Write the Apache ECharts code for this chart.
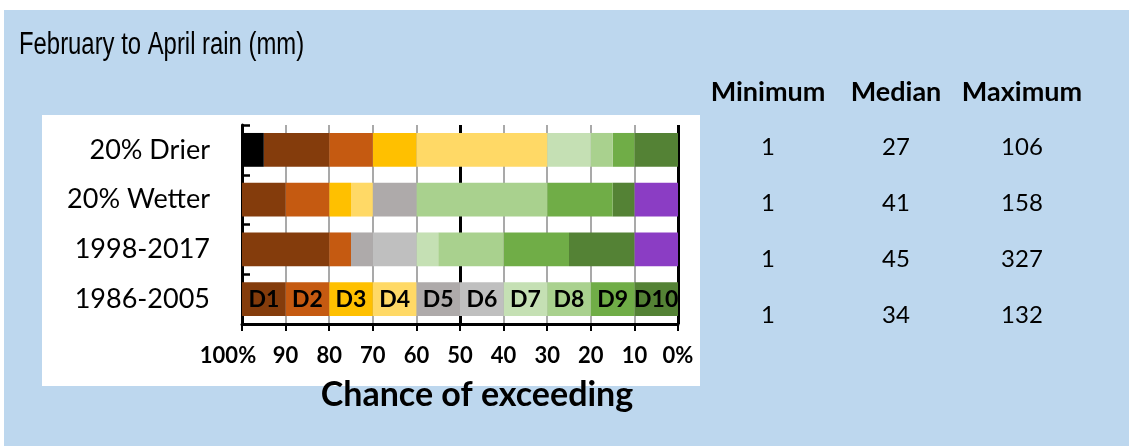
<!DOCTYPE html>
<html>
<head>
<meta charset="utf-8">
<script src="https://cdn.jsdelivr.net/npm/echarts@6/dist/echarts.min.js"></script>
<style>
  body { margin: 0; background: #fff; }
  #wrap { position: relative; width: 1129px; height: 446px; overflow: hidden; }
  .panel { position: absolute; }
  #chart { position: absolute; left: 0; top: 0; width: 1129px; height: 446px; }
</style>
</head>
<body>
<div id="wrap">
  <div class="panel" style="left:4px;top:10px;width:1125px;height:436px;background:#bdd7ee;"></div>
  <div class="panel" style="left:42px;top:115px;width:658px;height:271px;background:#fff;"></div>
  <div id="chart"></div>
</div>
<script>
// rows, top to bottom
var rows = ["20% Drier", "20% Wetter", "1998-2017", "1986-2005"];

// colour classes from the left (100%) to the right (0%)
var classes = ["Below", "D1", "D2", "D3", "D4", "D5", "D6", "D7", "D8", "D9", "D10", "Above"];

// width (in % chance) of each class on each row
var drier  = [5, 15, 10, 10, 30, 0, 0, 10, 5, 5, 10, 0];
var wetter = [0, 10, 10, 5, 5, 10, 0, 0, 30, 15, 5, 10];
var recent = [0, 20, 5, 0, 0, 5, 10, 5, 15, 15, 15, 10];
var base   = [0, 10, 10, 10, 10, 10, 10, 10, 10, 10, 10, 0];

// table on the right
var tableHead = ["Minimum", "Median", "Maximum"];
var minimum = [1, 1, 1, 1];
var median = [27, 41, 45, 34];
var maximum = [106, 158, 327, 132];

var classColors = ["#000000", "#843c0c", "#c55a11", "#ffc000", "#ffd966", "#aeaaaa",
  "#bfbfbf", "#c5e0b4", "#a9d18e", "#70ad47", "#548235", "#8b3dc4"];

var chart = echarts.init(document.getElementById("chart"), null, { renderer: "canvas" });

// stacking starts at 0% (right side), so add classes from the right
var series = [];
for (var i = classes.length - 1; i >= 0; i--) {
  series.push({
    name: classes[i],
    type: "bar",
    stack: "all",
    barCategoryGap: "32%",
    itemStyle: { color: classColors[i] },
    label: {
      show: true,
      position: "inside",
      color: "#000",
      fontFamily: "Lato",
      fontWeight: "bold",
      fontSize: 23,
      formatter: function (p) {
        return (p.name === "1986-2005" && p.value > 0) ? p.seriesName : "";
      }
    },
    data: [drier[i], wetter[i], recent[i], base[i]]
  });
}

var colX = [768, 896, 1022];
var rowY = [147, 203, 259, 315];
var graphics = [];
// narrow title: Liberation Sans squeezed
graphics.push({
  type: "text", x: 19, y: 45, scaleX: 0.77,
  style: { text: "February to April rain (mm)", fill: "#000", font: "31px 'Liberation Sans'", textAlign: "left", textVerticalAlign: "middle" }
});
tableHead.forEach(function (h, k) {
  graphics.push({
    type: "text", x: colX[k], y: 92,
    style: { text: h, fill: "#000", font: "bold 27px Lato", textAlign: "center", textVerticalAlign: "middle" }
  });
});
[minimum, median, maximum].forEach(function (col, k) {
  col.forEach(function (v, r) {
    graphics.push({
      type: "text", x: colX[k], y: rowY[r],
      style: { text: String(v), fill: "#000", font: "24px Lato", textAlign: "center", textVerticalAlign: "middle" }
    });
  });
});
graphics.push({
  type: "text", x: 477, y: 395,
  style: { text: "Chance of exceeding", fill: "#000", font: "bold 34px Lato", textAlign: "center", textVerticalAlign: "middle" }
});

var tickFont = { color: "#000", fontFamily: "Lato", fontWeight: "bold", fontSize: 22 };

var option = {
  animation: false,
  backgroundColor: "transparent",
  grid: { left: 242, right: 451, top: 125, bottom: 122, containLabel: false },
  xAxis: [{
    type: "value",
    min: 0,
    max: 100,
    interval: 10,
    inverse: true,
    axisLine: { show: true, onZero: false, lineStyle: { color: "#000", width: 3 } },
    axisTick: { show: true, length: 7, lineStyle: { color: "#000", width: 2 } },
    splitLine: { show: true, lineStyle: { color: "#8c8c8c", width: 1.5 } },
    axisLabel: Object.assign({
      margin: 21,
      formatter: function (v) {
        if (v === 100) return "{first|100%}";
        return v === 0 ? "0%" : String(v);
      },
      rich: { first: Object.assign({ padding: [0, 28, 0, 0] }, tickFont) }
    }, tickFont)
  }, {
    // heavier lines at 50% and 0%
    type: "value",
    min: 0,
    max: 100,
    interval: 50,
    inverse: true,
    position: "top",
    axisLine: { show: false },
    axisTick: { show: false },
    axisLabel: { show: false },
    splitLine: { show: true, lineStyle: { color: "#000", width: 3 } }
  }],
  yAxis: {
    type: "category",
    inverse: true,
    position: "left",
    data: rows,
    axisLine: { show: true, onZero: false, lineStyle: { color: "#000", width: 3 } },
    axisTick: { show: true, inside: true, length: 8, lineStyle: { color: "#000", width: 2.5 } },
    axisLabel: { margin: 32, color: "#000", fontFamily: "Lato", fontSize: 27 }
  },
  graphic: graphics,
  series: series
};

chart.setOption(option);
</script>
</body>
</html>
